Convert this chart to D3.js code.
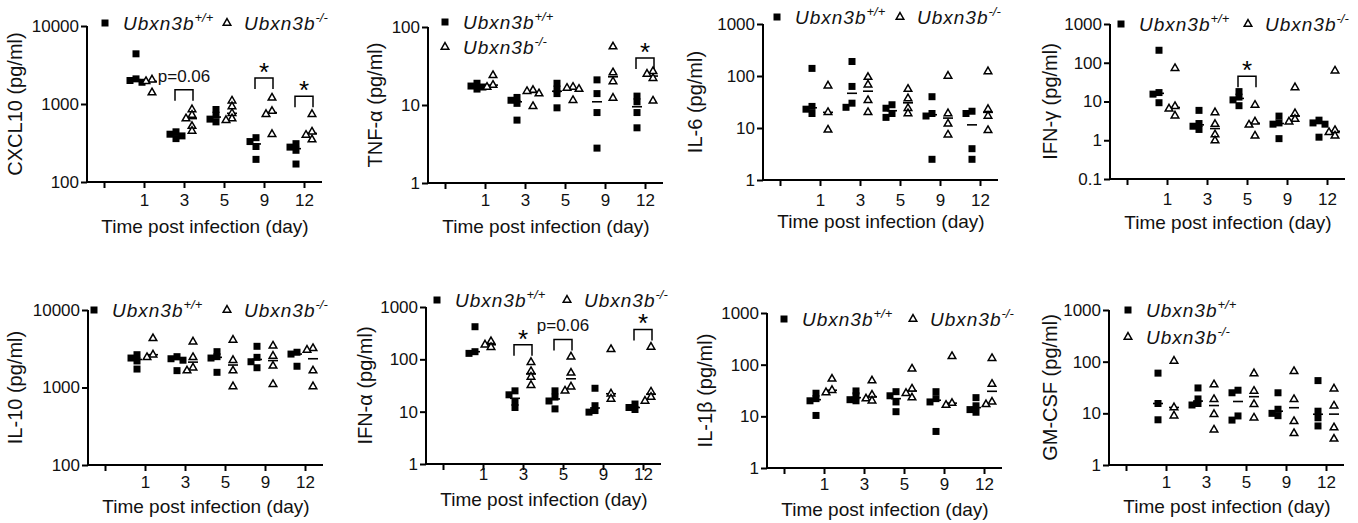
<!DOCTYPE html>
<html>
<head>
<meta charset="utf-8">
<script src="https://cdn.jsdelivr.net/npm/d3@7"></script>
<style>
  body { margin: 0; background: #fff; }
  svg { display: block; font-family: "Liberation Sans", Arial, sans-serif; }
</style>
</head>
<body>
<svg id="chart" width="1358" height="523"></svg>
<script>
// categories: first slot is an empty tick
const days = ["1", "3", "5", "9", "12"];
const xSlots = ["", ...days];

// values in pg/ml, one inner array per day (1, 3, 5, 9, 12)
const cxcl10WT = [[4400, 2100, 2000, 1900], [440, 410, 390, 360], [850, 720, 640, 590], [370, 330, 285, 195], [310, 280, 255, 170]];
const cxcl10KO = [[2050, 1950, 1400], [850, 720, 650, 520, 450], [1100, 930, 760, 650, 620], [1200, 810, 740, 410], [740, 440, 400, 350]];

const tnfWT = [[19, 17.5, 17, 16], [12.5, 11.5, 10.5, 6.4], [19, 16, 14, 9.2], [21, 14, 8, 2.8], [13, 11, 8, 5.1]];
const tnfKO = [[24, 18, 17], [15.5, 15, 14, 9.6], [17, 16.5, 16, 11.5], [56, 26, 20, 12.3], [27, 25, 22, 11.3]];

const il6WT = [[140, 26, 23, 19], [190, 63, 30, 25], [28, 24, 19, 16], [40, 19, 17, 2.5], [21, 19, 4, 2.5]];
const il6KO = [[65, 20, 9.2], [95, 68, 34, 20], [56, 37, 24, 19], [100, 19, 12, 7.4], [122, 23, 17, 9]];

const ifngWT = [[210, 17, 15.5, 9.3], [5.9, 2.7, 2.3, 1.9], [18, 13, 11, 7.8], [4.2, 2.8, 2.6, 1.1], [3.3, 2.8, 2.6, 1.2]];
const ifngKO = [[72, 7.5, 6.5, 4.3], [5.2, 2.6, 1.4, 0.98], [8.1, 3.0, 2.5, 1.3], [23, 4.9, 3.5, 3.0], [62, 1.8, 1.6, 1.3]];

const il10WT = [[2650, 2400, 2200, 1730], [2500, 2350, 2250, 1650], [2900, 2500, 2400, 1570], [3400, 2450, 2150, 1800], [2850, 2700, 1880]];
const il10KO = [[4300, 2650, 2450], [3900, 2450, 1800, 1650], [4100, 2250, 1650, 1030], [3450, 2550, 1900, 1100], [3200, 3050, 1650, 1030]];

const ifnaWT = [[420, 140, 130], [25, 21, 15, 12], [25, 19, 16, 11.3], [28, 13, 10.5, 9.8], [14, 12, 11]];
const ifnaKO = [[220, 190, 170], [88, 59, 46, 32], [112, 55, 30, 25], [155, 22, 17.5], [172, 24, 19, 16]];

const il1bWT = [[28, 22, 20, 10.4], [31, 25, 21, 20], [30, 25, 19, 12.3], [30, 22, 19, 5.1], [23, 16, 13.5, 12]];
const il1bKO = [[53, 32, 29], [49, 26, 22, 20], [83, 34, 28, 23], [145, 18, 16.5], [133, 42, 19, 17]];

const gmcsfWT = [[60, 15.5, 7.5], [31, 19, 15.5, 14.5], [28, 25, 8.9, 7.4], [25, 12, 10, 9], [43, 11, 8.2, 5.7]];
const gmcsfKO = [[103, 13, 9], [36, 18.7, 9.6, 4.8], [59, 27, 15, 8.2], [65, 18.7, 7, 4.1], [30, 14, 5.3, 3.2]];

// significance brackets: day, bracket height (pg/ml), label
const cxcl10Sig = [{ day: "3", at: 1527, label: "p=0.06" }, { day: "9", at: 2155, label: "*" }, { day: "12", at: 1253, label: "*" }];
const tnfSig = [{ day: "12", at: 40, label: "*" }];
const ifngSig = [{ day: "5", at: 45, label: "*" }];
const ifnaSig = [{ day: "3", at: 190, label: "*" }, { day: "5", at: 240, label: "p=0.06" }, { day: "12", at: 373, label: "*" }];

const yTitles = ["CXCL10 (pg/ml)", "TNF-α (pg/ml)", "IL-6 (pg/ml)", "IFN-γ (pg/ml)",
                 "IL-10 (pg/ml)", "IFN-α (pg/ml)", "IL-1β (pg/ml)", "GM-CSF (pg/ml)"];
const yDomains = [[100, 10000], [1, 100], [1, 1000], [0.1, 1000], [100, 10000], [1, 1000], [1, 1000], [1, 1000]];
const wtSeries = [cxcl10WT, tnfWT, il6WT, ifngWT, il10WT, ifnaWT, il1bWT, gmcsfWT];
const koSeries = [cxcl10KO, tnfKO, il6KO, ifngKO, il10KO, ifnaKO, il1bKO, gmcsfKO];
const sigSeries = [cxcl10Sig, tnfSig, [], ifngSig, [], ifnaSig, [], []];

// layout of each panel (axis x, plot top/bottom, label rows, legend)
const layout = [
  { ax: 87,   top: 26,  bot: 182, tickY: 206, titleY: 233, yTitleX: 15,   leg: { row: true, x1: 105,  x2: 227,  y: 23 } },
  { ax: 428,  top: 27,  bot: 183, tickY: 206, titleY: 233, yTitleX: 375,  leg: { row: false, x1: 445, y: 22, y2: 47 } },
  { ax: 763,  top: 24,  bot: 180, tickY: 206, titleY: 228, yTitleX: 695,  leg: { row: true, x1: 777,  x2: 900,  y: 17 } },
  { ax: 1110, top: 24,  bot: 179, tickY: 205, titleY: 229, yTitleX: 1050, leg: { row: true, x1: 1121, x2: 1248, y: 24 } },
  { ax: 88,   top: 310, bot: 465, tickY: 488, titleY: 513, yTitleX: 15,   leg: { row: true, x1: 94,   x2: 227,  y: 310 } },
  { ax: 426,  top: 307, bot: 464, tickY: 480, titleY: 506, yTitleX: 365,  leg: { row: true, x1: 437,  x2: 567,  y: 300 } },
  { ax: 767,  top: 313, bot: 468, tickY: 490, titleY: 516, yTitleX: 705,  leg: { row: true, x1: 784,  x2: 913,  y: 319 } },
  { ax: 1109, top: 310, bot: 465, tickY: 488, titleY: 513, yTitleX: 1050, leg: { row: false, x1: 1128, y: 310, y2: 337 } }
];

const svg = d3.select("#chart");
const sq = d3.symbol(d3.symbolSquare, 49)();
const tri = d3.symbol(d3.symbolTriangle, 25)();
const groupOffset = 8;

// spread points that would overlap inside a group
function dodge(vals, cx, y, r) {
  const placed = [];
  const pts = vals.map(v => ({ v, y: y(v) })).sort((a, b) => a.y - b.y);
  const offs = [0, -3, 3, -6, 6];
  pts.forEach(p => {
    p.x = cx;
    for (const o of offs) {
      if (placed.every(q => Math.abs(q.y - p.y) >= r || Math.abs(q.x - (cx + o)) >= r)) { p.x = cx + o; break; }
    }
    placed.push(p);
  });
  return pts;
}

function legendText(g, x, y, sup) {
  const t = g.append("text")
    .attr("x", x).attr("y", y)
    .attr("fill", "#111")
    .style("font-size", "19px")
    .style("font-style", "italic")
    .style("letter-spacing", "1px");
  t.append("tspan").text("Ubxn3b");
  t.append("tspan").attr("dy", -8).style("font-size", "13px").style("letter-spacing", "0px").text(sup);
}

layout.forEach((L, i) => {
  const g = svg.append("g");

  const x = d3.scalePoint().domain(xSlots).range([L.ax + 17, L.ax + 217]);
  const y = d3.scaleLog().domain(yDomains[i]).range([L.bot, L.top]);
  const decades = d3.range(Math.log10(yDomains[i][0]), Math.log10(yDomains[i][1]) + 0.5).map(e => Math.pow(10, e));

  // y axis
  const yAxis = g.append("g").attr("transform", `translate(${L.ax},0)`)
    .call(d3.axisLeft(y).tickValues(decades).tickFormat(d => d < 1 ? d3.format(".1f")(d) : d3.format("d")(d)).tickSize(6).tickSizeOuter(0));
  yAxis.select(".domain").attr("stroke-width", 2).attr("d", `M0,${L.bot + 1}V${L.top}`);
  yAxis.selectAll(".tick line").attr("stroke-width", 2);
  yAxis.selectAll(".tick text").attr("x", -8).style("font-size", "17px").style("font-family", "inherit").attr("fill", "#111");

  // x axis
  const xAxis = g.append("g").attr("transform", `translate(0,${L.bot})`)
    .call(d3.axisBottom(x).tickSize(6).tickSizeOuter(0));
  xAxis.select(".domain").attr("stroke-width", 2).attr("d", `M${L.ax - 1},0H${L.ax + 235}`);
  xAxis.selectAll(".tick line").attr("stroke-width", 2);
  xAxis.selectAll(".tick text").attr("y", null).attr("dy", null)
    .attr("transform", `translate(0,${L.tickY - L.bot})`)
    .style("font-size", "17px").style("font-family", "inherit").attr("fill", "#111");

  g.append("text")
    .attr("x", L.ax + 118).attr("y", L.titleY)
    .attr("text-anchor", "middle")
    .style("font-size", "19px").attr("fill", "#111")
    .text("Time post infection (day)");

  g.append("text")
    .attr("transform", `translate(${L.yTitleX + 7},${(L.top + L.bot) / 2}) rotate(-90)`)
    .attr("text-anchor", "middle")
    .style("font-size", "20px").attr("fill", "#111")
    .text(yTitles[i]);

  // points and median lines
  [[wtSeries[i], -groupOffset, sq, "#000"], [koSeries[i], groupOffset, tri, "#fff"]].forEach(([series, off, shape, fill]) => {
    series.forEach((vals, k) => {
      const cx = x(days[k]) + off;
      const med = d3.median(vals);
      g.append("line")
        .attr("x1", cx - 5).attr("x2", cx + 5)
        .attr("y1", y(med)).attr("y2", y(med))
        .attr("stroke", "#000").attr("stroke-width", 1.6);
      g.selectAll(null)
        .data(dodge(vals, cx, y, 4.5))
        .join("path")
        .attr("d", shape)
        .attr("transform", d => `translate(${d.x},${d.y})`)
        .attr("fill", fill)
        .attr("stroke", "#000")
        .attr("stroke-width", fill === "#000" ? 0 : 1.5);
    });
  });

  // significance brackets
  sigSeries[i].forEach(s => {
    const x1 = x(s.day) - groupOffset - 1, x2 = x(s.day) + groupOffset + 1, yb = y(s.at);
    g.append("path")
      .attr("d", `M${x1},${yb + 11}V${yb}H${x2}V${yb + 11}`)
      .attr("fill", "none").attr("stroke", "#000").attr("stroke-width", 1.5);
    if (s.label === "*") {
      g.append("text").attr("x", x(s.day)).attr("y", yb + 3)
        .attr("text-anchor", "middle").style("font-size", "26px").text("*");
    } else {
      g.append("text").attr("x", x(s.day)).attr("y", yb - 8)
        .attr("text-anchor", "middle").style("font-size", "17px").attr("fill", "#111").text(s.label);
    }
  });

  // legend
  const lg = L.leg;
  g.append("path").attr("d", sq).attr("transform", `translate(${lg.x1},${lg.y})`).attr("fill", "#000");
  legendText(g, lg.x1 + 18, lg.y + 7, "+/+");
  if (lg.row) {
    g.append("path").attr("d", tri).attr("transform", `translate(${lg.x2},${lg.y})`)
      .attr("fill", "#fff").attr("stroke", "#000").attr("stroke-width", 1.5);
    legendText(g, lg.x2 + 17, lg.y + 7, "-/-");
  } else {
    g.append("path").attr("d", tri).attr("transform", `translate(${lg.x1},${lg.y2})`)
      .attr("fill", "#fff").attr("stroke", "#000").attr("stroke-width", 1.5);
    legendText(g, lg.x1 + 18, lg.y2 + 7, "-/-");
  }
});
</script>
</body>
</html>
